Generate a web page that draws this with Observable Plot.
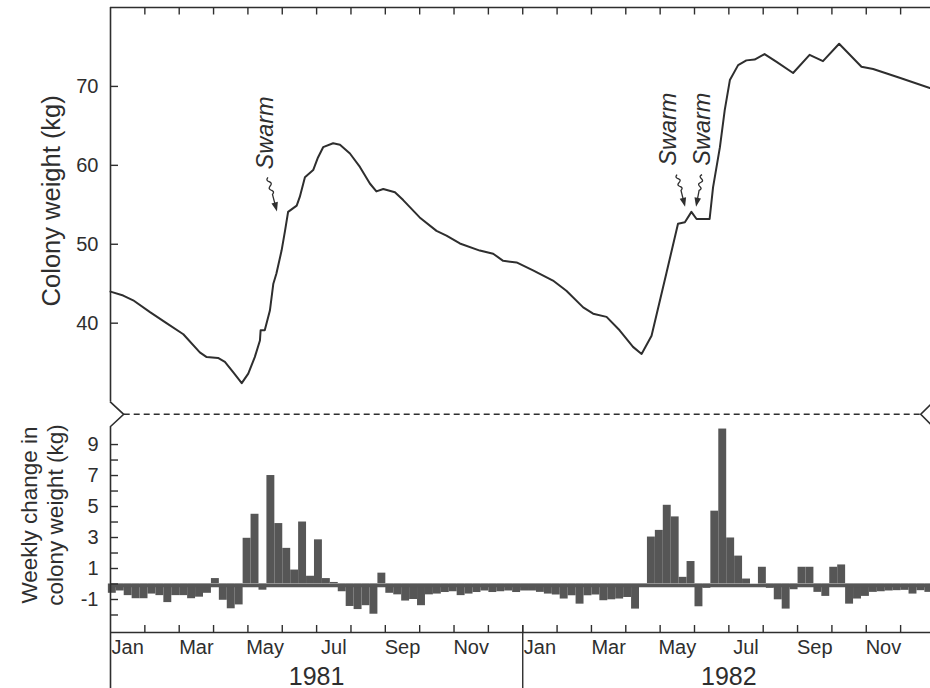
<!DOCTYPE html>
<html>
<head>
<meta charset="utf-8">
<script src="https://cdn.jsdelivr.net/npm/d3@7"></script>
<script src="https://cdn.jsdelivr.net/npm/@observablehq/plot@0.6"></script>
<style>
  html, body { margin: 0; padding: 0; background: #fff; overflow: hidden; }
  #chart { position: relative; width: 930px; height: 688px; overflow: hidden; background: #fff; }
  #chart svg { position: absolute; left: 0; }
</style>
</head>
<body>
<div id="chart"></div>
<script>
// ---------------- DATA ----------------
// Colony weight line: time in months since 1 Jan 1981, weight in kg
const lineMonth = [0, 0.37, 0.66, 1.15, 1.63, 2.12, 2.60, 2.80, 3.13, 3.33, 3.57, 3.82, 4.01, 4.20, 4.35, 4.37, 4.49, 4.64, 4.74, 4.83,
  4.98, 5.08, 5.17, 5.42, 5.51, 5.66, 5.90, 6.04, 6.19, 6.48, 6.68, 6.97, 7.26, 7.55, 7.74, 7.94, 8.28, 8.52, 9.00, 9.49,
  9.78, 10.17, 10.75, 11.14, 11.43, 11.82, 12.30, 12.88, 13.27, 13.76, 14.05, 14.44, 14.82, 15.21, 15.46, 15.75, 16.18, 16.52, 16.72, 16.91,
  17.06, 17.44, 17.54, 17.74, 17.88, 18.03, 18.27, 18.51, 18.75, 19.04, 19.39, 19.87, 20.35, 20.74, 21.21, 21.86, 22.20, 22.97, 23.85];
const lineKg = [44.0, 43.5, 42.9, 41.4, 40.0, 38.6, 36.3, 35.7, 35.6, 35.1, 33.8, 32.4, 33.6, 35.7, 37.8, 39.1, 39.1, 41.6, 45.0, 46.3,
  49.2, 51.7, 54.1, 54.9, 56.0, 58.5, 59.4, 61.0, 62.3, 62.8, 62.6, 61.5, 59.8, 57.7, 56.7, 57.0, 56.6, 55.6, 53.4, 51.7,
  51.1, 50.1, 49.2, 48.8, 47.9, 47.7, 46.7, 45.4, 44.1, 42.0, 41.2, 40.8, 39.1, 37.0, 36.1, 38.4, 46.3, 52.6, 52.8, 54.1,
  53.2, 53.2, 57.2, 62.3, 67.0, 70.8, 72.7, 73.3, 73.4, 74.1, 73.1, 71.7, 74.0, 73.2, 75.4, 72.5, 72.2, 71.1, 69.8];

// Weekly change in colony weight (kg), 52 weeks per year
const changes1981 = [-0.6, -0.45, -0.75, -0.95, -0.95, -0.65, -0.75, -1.2, -0.75, -0.75, -0.95, -0.85, -0.6, 0.35, -1.05, -1.6, -1.35,
  2.95, 4.5, -0.4, 7.0, 3.9, 2.3, 0.9, 4.0, 0.5, 2.85, 0.35, 0.1, -0.5, -1.45, -1.65, -1.4, -1.95, 0.7, -0.6, -0.7, -1.1, -1.0, -1.4,
  -0.7, -0.65, -0.55, -0.5, -0.75, -0.65, -0.55, -0.45, -0.55, -0.5, -0.45, -0.55];
const changes1982 = [-0.45, -0.45, -0.54, -0.65, -0.71, -0.97, -0.76, -1.3, -0.76, -0.71, -1.08, -1.02, -0.97, -0.87, -1.62, -0.2,
  3.03, 3.46, 5.08, 4.33, 0.43, 1.45, -1.47, -0.28, 4.7, 10.0, 2.97, 1.8, 0.32, 0, 1.08, -0.28, -1.02, -1.62, -0.37, 1.08, 1.08,
  -0.54, -0.8, 1.08, 1.23, -1.3, -0.97, -0.8, -0.54, -0.5, -0.45, -0.43, -0.41, -0.65, -0.43, -0.54];

const years = ["1981", "1982"];
const monthNames = ["Jan", "Feb", "Mar", "Apr", "May", "Jun", "Jul", "Aug", "Sep", "Oct", "Nov", "Dec"];
const labelledMonths = ["Jan", "Mar", "May", "Jul", "Sep", "Nov"];
const weightTicks = [40, 50, 60, 70];
const changeTicks = [-2, -1, 0, 1, 2, 3, 4, 5, 6, 7, 8, 9];
const changeTickLabels = [9, 7, 5, 3, 1, -1];

// Swarm events (arrow tip: month, kg)
const swarmMonth = [4.86, 16.74, 17.06];
const swarmKg = [54.1, 54.7, 54.7];
const swarmLabel = ["Swarm", "Swarm", "Swarm"];

const weightTitle = "Colony weight (kg)";
const changeTitle = "Weekly change in\ncolony weight (kg)";

// ---------------- LAYOUT / STYLE ----------------
const ink = "#2e2e2e";
const barFill = "#565656";
const fontFamily = '"Liberation Sans", Arial, Helvetica, sans-serif';
const W = 930, ML = 110;
const xDomain = [0, 23.87];
const weightDomain = [30, 80];
const changeDomain = [-3.13, 10.1];
const TOP_H = 416, TOP_MT = 7, TOP_MB = 14.4;
const BOT_TOP = 415, BOT_H = 273, BOT_MT = 12, BOT_MB = 56;
const innerW = W - ML;
const innerHTop = TOP_H - TOP_MT - TOP_MB;
const innerHBot = BOT_H - BOT_MT - BOT_MB;
const weekOffset = -0.27; // bar grid phase relative to 1 Jan
const swarmLabelDx = [-12, -17, 6];
const swarmLabelDy = [-79, -78, -78];
const arrowStartDx = [-9, -8, 6];
const arrowStartDy = [-34, -32, -32];

const monthTicks = d3.range(1, years.length * monthNames.length);
const lineData = lineMonth.map((m, i) => ({m, kg: lineKg[i]}));
const bars = [
  ...changes1981.map((v, i) => ({week: i, v})),
  ...changes1982.map((v, i) => ({week: 52 + i, v}))
];
const weekToMonth = w => (w + weekOffset) * 12 / 52;
const monthLabelData = years.flatMap((y, yi) => labelledMonths.map(name => ({yi, mi: monthNames.indexOf(name), name})));
const style = {background: "transparent", overflow: "visible", fontFamily, color: ink};

// ---------------- TOP PANEL ----------------
const topChart = Plot.plot({
  width: W, height: TOP_H, marginLeft: ML, marginRight: 0, marginTop: TOP_MT, marginBottom: TOP_MB,
  x: {domain: xDomain, axis: null},
  y: {domain: weightDomain, axis: null},
  style,
  marks: [
    Plot.ruleY([weightDomain[1]], {stroke: ink, strokeWidth: 1.6}),
    Plot.ruleX([0], {stroke: ink, strokeWidth: 1.6}),
    Plot.ruleX(monthTicks, {x: d => d, stroke: ink, strokeWidth: 1.4, insetBottom: innerHTop - 7.5}),
    Plot.ruleY(weightTicks, {y: d => d, stroke: ink, strokeWidth: 1.4, insetRight: innerW - 8}),
    Plot.text(weightTicks, {y: d => d, text: d => String(d), frameAnchor: "left", dx: -12, textAnchor: "end", lineAnchor: "middle", fontSize: 20, fill: ink}),
    Plot.text([weightTitle], {text: d => d, frameAnchor: "left", textAnchor: "middle", lineAnchor: "middle", dx: -59, dy: -4, rotate: -90, fontSize: 25.5, fill: ink}),
    Plot.line(lineData, {x: "m", y: "kg", stroke: ink, strokeWidth: 2, strokeLinejoin: "round"}),
    ...swarmMonth.map((m, i) => Plot.text([i], {
      x: () => m, y: () => swarmKg[i], text: () => swarmLabel[i], rotate: -90,
      dx: swarmLabelDx[i], dy: swarmLabelDy[i], fontSize: 23.5, fontStyle: "italic", fill: ink
    }))
  ]
});
topChart.style.top = "0px";

// ---------------- BOTTOM PANEL ----------------
const botChart = Plot.plot({
  width: W, height: BOT_H, marginLeft: ML, marginRight: 0, marginTop: BOT_MT, marginBottom: BOT_MB,
  x: {domain: xDomain, axis: null},
  y: {domain: changeDomain, axis: null},
  style,
  marks: [
    Plot.rect(bars, {x1: d => weekToMonth(d.week), x2: d => weekToMonth(d.week + 1), y1: 0, y2: "v", fill: barFill}),
    Plot.ruleY([0], {stroke: barFill, strokeWidth: 3.5, dy: 1.5}),
    Plot.ruleY([changeDomain[0]], {stroke: ink, strokeWidth: 1.6}),
    Plot.ruleX([0], {stroke: ink, strokeWidth: 1.6, insetBottom: -BOT_MB}),
    Plot.ruleX([12], {stroke: ink, strokeWidth: 1.4, insetTop: innerHBot - 7, insetBottom: -BOT_MB}),
    Plot.ruleX(monthTicks, {x: d => d, stroke: ink, strokeWidth: 1.4, insetTop: innerHBot - 7}),
    Plot.ruleY(changeTicks, {y: d => d, stroke: ink, strokeWidth: 1.4, insetRight: innerW - 8}),
    Plot.text(changeTickLabels, {y: d => d, text: d => String(d), frameAnchor: "left", dx: -12, textAnchor: "end", lineAnchor: "middle", fontSize: 20, fill: ink}),
    Plot.text(monthLabelData, {x: d => d.yi * 12 + d.mi + 0.5, text: "name", frameAnchor: "bottom", lineAnchor: "middle", dy: 15, fontSize: 20, fill: ink}),
    Plot.text(years, {x: (d, i) => i * 12 + 6, text: d => d, frameAnchor: "bottom", lineAnchor: "middle", dy: 44, fontSize: 25, fill: ink}),
    Plot.text([changeTitle], {text: d => d, frameAnchor: "left", textAnchor: "middle", lineAnchor: "middle", dx: -69, dy: -15, rotate: -90, fontSize: 22.5, lineHeight: 1.15, fill: ink})
  ]
});
botChart.style.top = BOT_TOP + "px";

const root = document.getElementById("chart");
root.appendChild(topChart);
root.appendChild(botChart);

// ---------------- OVERLAY: axis break + swarm arrows ----------------
function scaleFn(chart, name) {
  const s = chart.scale(name);
  if (s && typeof s.apply === "function") return v => s.apply(v);
  const [d0, d1] = s.domain, [r0, r1] = s.range;
  return v => r0 + (v - d0) / (d1 - d0) * (r1 - r0);
}
const xT = scaleFn(topChart, "x"), yT = scaleFn(topChart, "y");
const xB = scaleFn(botChart, "x"), yB = scaleFn(botChart, "y");

const overlay = d3.create("svg").attr("width", W).attr("height", 688).style("top", "0px").style("pointer-events", "none");
const x0 = xT(xDomain[0]);
const yBreakTop = yT(weightDomain[0]);
const yBreakBot = BOT_TOP + yB(changeDomain[1]);
const yMid = (yBreakTop + yBreakBot) / 2;
const bw = (yBreakBot - yBreakTop) / 2 + 1;
const xRightAxis = x0 + 24 * (xT(1) - xT(0));

overlay.append("path")
  .attr("d", `M${x0},${yBreakTop}L${x0 + bw},${yMid}L${x0},${yBreakBot}`)
  .attr("fill", "none").attr("stroke", ink).attr("stroke-width", 1.6);
overlay.append("path")
  .attr("d", `M${xRightAxis},${yMid - bw}L${xRightAxis - bw},${yMid}L${xRightAxis},${yMid + bw}`)
  .attr("fill", "none").attr("stroke", ink).attr("stroke-width", 1.6);
overlay.append("line")
  .attr("x1", x0 + bw).attr("x2", xRightAxis - bw).attr("y1", yMid).attr("y2", yMid)
  .attr("stroke", ink).attr("stroke-width", 1.5).attr("stroke-dasharray", "6,4");

swarmMonth.forEach((m, i) => {
  const tx = xT(m), ty = yT(swarmKg[i]);
  const sx = tx + arrowStartDx[i], sy = ty + arrowStartDy[i];
  const ang = Math.atan2(ty - sy, tx - sx);
  const len = Math.hypot(tx - sx, ty - sy);
  const headLen = 9, headW = 3.3;
  const shaftLen = len - headLen + 1;
  const pts = d3.range(0, 41).map(k => {
    const t = k / 40;
    const along = t * shaftLen;
    const off = t < 0.65 ? 1.6 * Math.sin(t / 0.65 * Math.PI * 4) : 0;
    return [sx + Math.cos(ang) * along - Math.sin(ang) * off, sy + Math.sin(ang) * along + Math.cos(ang) * off];
  });
  overlay.append("path").attr("d", d3.line()(pts)).attr("fill", "none").attr("stroke", ink).attr("stroke-width", 1.3);
  const bx = tx - Math.cos(ang) * headLen, by = ty - Math.sin(ang) * headLen;
  const px = -Math.sin(ang) * headW, py = Math.cos(ang) * headW;
  overlay.append("path").attr("d", `M${tx},${ty}L${bx + px},${by + py}L${bx - px},${by - py}Z`).attr("fill", ink);
});
root.appendChild(overlay.node());
</script>
</body>
</html>
